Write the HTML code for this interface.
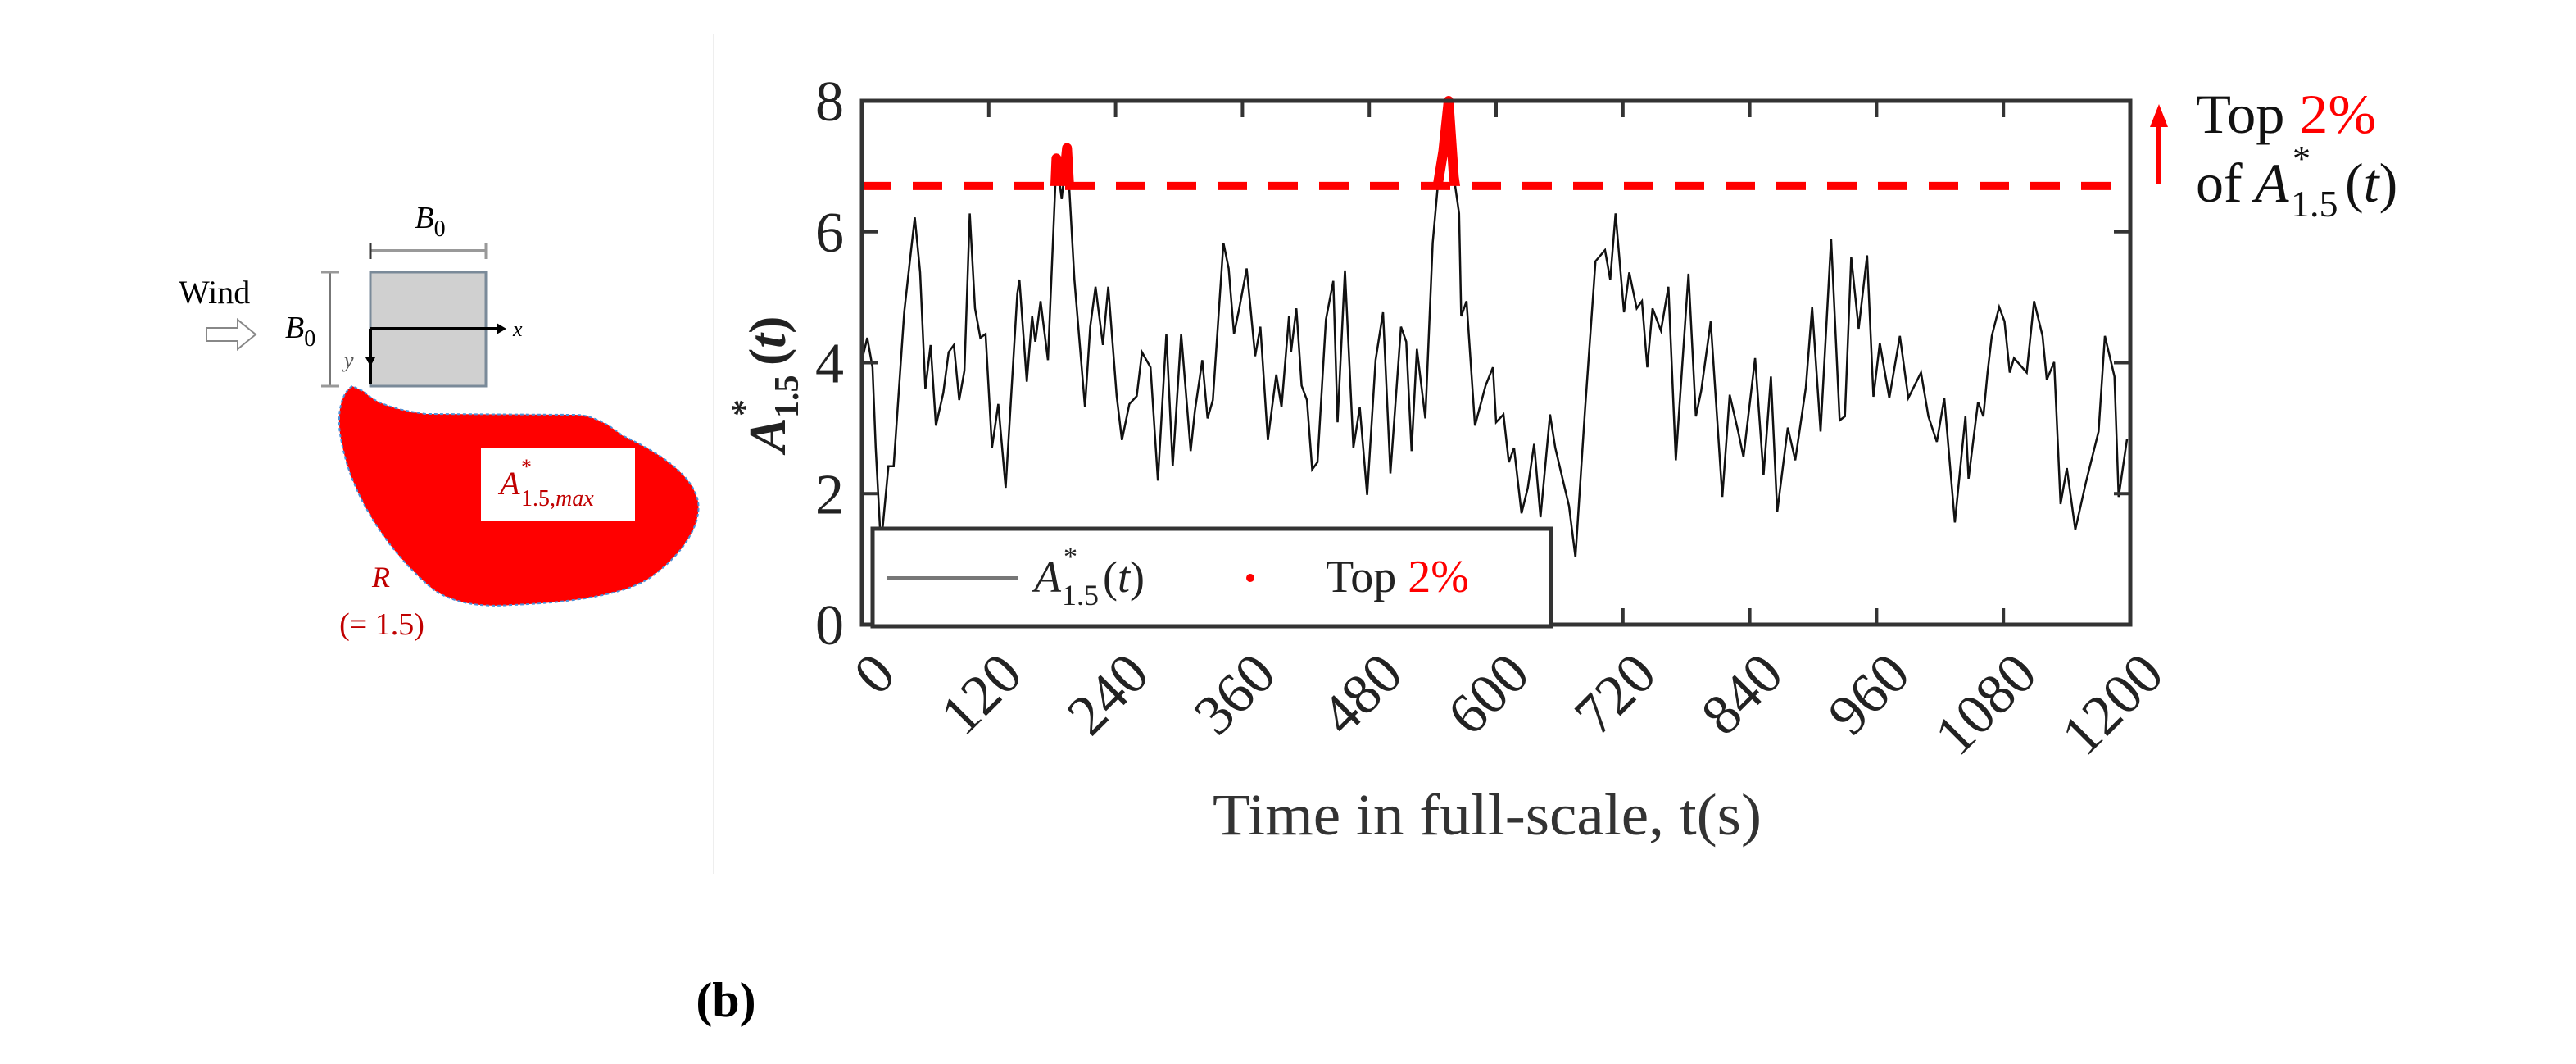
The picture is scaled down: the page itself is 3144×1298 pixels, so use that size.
<!DOCTYPE html>
<html><head><meta charset="utf-8"><style>
html,body{margin:0;padding:0;background:#fff;}
svg{display:block;font-family:"Liberation Serif",serif;}
</style></head><body>
<svg id="fig" width="3144" height="1298" viewBox="0 0 3144 1298">
<line x1="871" y1="42" x2="871" y2="1066" stroke="#eee" stroke-width="2"/>
<g>
  <rect x="452" y="332" width="141" height="139" fill="#d0d0d0" stroke="#7a8a99" stroke-width="3"/>
  <line x1="452" y1="306" x2="593" y2="306" stroke="#999" stroke-width="4"/>
  <line x1="452" y1="296" x2="452" y2="316" stroke="#333" stroke-width="3"/>
  <line x1="593" y1="296" x2="593" y2="316" stroke="#999" stroke-width="3"/>
  <text x="525" y="278" font-size="38" font-style="italic" text-anchor="middle">B<tspan font-size="28" font-style="normal" dy="10">0</tspan></text>
  <line x1="403" y1="332" x2="403" y2="471" stroke="#777" stroke-width="2"/>
  <line x1="392" y1="332" x2="414" y2="332" stroke="#999" stroke-width="3"/>
  <line x1="392" y1="471" x2="414" y2="471" stroke="#999" stroke-width="3"/>
  <text x="348" y="412" font-size="38" font-style="italic">B<tspan font-size="28" font-style="normal" dy="10">0</tspan></text>
  <text x="218" y="370" font-size="40">Wind</text>
  <path d="M252,400 L290,400 L290,390 L312,408 L290,426 L290,416 L252,416 Z" fill="#fff" stroke="#888" stroke-width="2"/>
  <line x1="452" y1="401" x2="608" y2="401" stroke="#000" stroke-width="4"/>
  <path d="M606,394 L618,401 L606,408 Z" fill="#000"/>
  <text x="626" y="410" font-size="26" font-style="italic">x</text>
  <line x1="452" y1="401" x2="452" y2="468" stroke="#000" stroke-width="4"/>
  <path d="M446,436 L452,447 L458,436 Z" fill="#000"/>
  <text x="420" y="448" font-size="26" font-style="italic" fill="#555">y</text>
  <path d="M430,471 C415,480 410,510 417,540 C430,610 480,680 530,720 C560,740 600,740 625,738 C700,735 770,725 800,700 C840,670 860,630 850,605 C840,575 800,550 759,531 C740,515 720,506 702,506 L520,505 C480,500 455,490 445,478 Z" fill="#ff0000" stroke="#4a90d9" stroke-width="2" stroke-dasharray="4 3"/>
  <rect x="587" y="546" width="188" height="90" fill="#fff"/>
  <g fill="#c00000">
    <text x="610" y="603" font-size="40" font-style="italic">A</text>
    <text x="636" y="578" font-size="26">*</text>
    <text x="636" y="617" font-size="28"><tspan>1.5,</tspan><tspan font-style="italic">max</tspan></text>
  </g>
  <text x="465" y="716" font-size="36" font-style="italic" fill="#c00000" text-anchor="middle">R</text>
  <text x="466" y="774" font-size="38" fill="#c00000" text-anchor="middle">(= 1.5)</text>
</g>
<text x="886" y="1240" font-size="60" font-weight="bold" text-anchor="middle">(b)</text>
<g id="chart"></g>
</svg>
<script>
const times = [0,5,10,13,18,25,30,40,45,50,55,60,65,70,77,82,87,92,97,102,107,112,117,123,129,136,147,149,156,161,164,169,176,184,189,194,201,211,216,221,228,233,241,246,253,260,265,273,280,288,294,302,311,315,322,327,332,342,347,352,357,364,372,377,384,392,397,404,406,411,416,421,426,431,439,446,450,457,465,471,478,486,493,500,510,515,520,525,533,540,545,550,555,560,565,567,572,580,590,597,600,607,612,617,624,630,636,642,651,656,664,669,675,684,694,703,708,713,721,726,733,738,743,748,756,763,770,782,789,794,803,814,821,829,834,845,853,860,866,876,883,893,899,907,917,925,930,936,943,951,957,963,972,982,990,1002,1009,1017,1024,1034,1044,1047,1056,1061,1065,1069,1076,1081,1086,1090,1102,1109,1117,1121,1128,1134,1140,1148,1158,1170,1176,1185,1189,1197];
const values = [4.04,4.38,3.93,2.70,1.20,2.42,2.42,4.77,5.50,6.22,5.38,3.60,4.27,3.04,3.54,4.16,4.27,3.43,3.88,6.28,4.83,4.38,4.44,2.70,3.37,2.09,5.05,5.27,3.71,4.71,4.32,4.94,4.04,7.12,6.5,7.28,5.27,3.32,4.55,5.16,4.27,5.16,3.49,2.82,3.37,3.49,4.16,3.93,2.20,4.44,2.42,4.44,2.65,3.26,4.04,3.15,3.43,5.83,5.44,4.44,4.83,5.44,4.10,4.55,2.82,3.82,3.32,4.71,4.16,4.83,3.65,3.43,2.37,2.48,4.66,5.25,3.09,5.41,2.70,3.32,1.98,4.04,4.77,2.31,4.55,4.32,2.65,4.21,3.15,5.83,6.73,7.23,8.0,6.84,6.28,4.71,4.94,3.04,3.65,3.93,3.09,3.21,2.48,2.70,1.70,2.09,2.76,1.64,3.21,2.70,2.15,1.81,1.03,3.26,5.55,5.72,5.27,6.28,4.77,5.38,4.83,4.94,3.93,4.83,4.49,5.16,2.51,5.36,3.18,3.57,4.63,1.95,3.51,2.95,2.56,4.07,2.28,3.79,1.72,3.01,2.51,3.62,4.85,2.95,5.89,3.12,3.18,5.61,4.52,5.64,3.48,4.30,3.46,4.41,3.46,3.85,3.18,2.79,3.46,1.56,3.18,2.23,3.40,3.18,3.85,4.41,4.85,4.63,3.85,4.07,3.85,4.94,4.41,3.74,4.01,1.84,2.39,1.45,2.17,2.95,4.41,3.79,1.95,2.84];
const threshold = [6.7];
const xTicks = [0,120,240,360,480,600,720,840,960,1080,1200];
const yTicks = [0,2,4,6,8];

const NS='http://www.w3.org/2000/svg';
const g=document.getElementById('chart');
const L=1052,R=2600,T=123,B=762;
const xs=t=>L+(t/1200)*(R-L);
const ys=v=>B-(v/8)*(B-T);
function el(tag,attrs,parent){const e=document.createElementNS(NS,tag);for(const k in attrs)e.setAttribute(k,attrs[k]);(parent||g).appendChild(e);return e;}

const defs=el('defs',{});
const cp=el('clipPath',{id:'above'},defs);
el('rect',{x:L,y:T-20,width:R-L,height:ys(threshold[0])-(T-20)},cp);

let d='';
times.forEach((t,i)=>{d+=(i?'L':'M')+xs(t).toFixed(1)+','+ys(values[i]).toFixed(1);});
const line=el('path',{d:d,fill:'none',stroke:'#111','stroke-width':2.5});


const top2=el('path',{d:d,fill:'none',stroke:'#ff0000','stroke-width':12,'stroke-linejoin':'round','clip-path':'url(#above)'});



const dash=el('line',{x1:L,x2:2580,y1:ys(threshold[0]),y2:ys(threshold[0]),stroke:'#ff0000','stroke-width':10,'stroke-dasharray':'36 26'});



const box=el('rect',{x:L,y:T,width:R-L,height:B-T,fill:'none',stroke:'#333','stroke-width':5});



xTicks.forEach(t=>{
  const x=xs(t);
  el('line',{x1:x,x2:x,y1:B,y2:B-20,stroke:'#333','stroke-width':4});
  el('line',{x1:x,x2:x,y1:T,y2:T+20,stroke:'#333','stroke-width':4});
  const ax=x+44, ay=826;
  const lab=el('text',{x:ax,y:ay,'font-size':70,'text-anchor':'end',fill:'#222',transform:`rotate(-45 ${ax} ${ay})`});
  lab.textContent=t;
  
  
});
yTicks.forEach(v=>{
  const y=ys(v);
  el('line',{x1:L,x2:L+20,y1:y,y2:y,stroke:'#333','stroke-width':4});
  el('line',{x1:R,x2:R-20,y1:y,y2:y,stroke:'#333','stroke-width':4});
  const lab=el('text',{x:1030,y:y+24,'font-size':70,'text-anchor':'end',fill:'#222'});
  lab.textContent=v;
  
  
});

const lg=el('g',{});


el('rect',{x:1065,y:645,width:828,height:119,fill:'#fff',stroke:'#333','stroke-width':5},lg);
el('line',{x1:1083,x2:1243,y1:705,y2:705,stroke:'#777','stroke-width':4},lg);
const lt=el('g',{fill:'#222'},lg);


el('text',{x:1262,y:722,'font-size':54,'font-style':'italic'},lt).textContent='A';
el('text',{x:1298,y:690,'font-size':34},lt).textContent='*';
el('text',{x:1296,y:738,'font-size':36},lt).textContent='1.5';
const lp=el('text',{x:1346,y:722,'font-size':54},lt);
lp.innerHTML='(<tspan font-style="italic">t</tspan>)';
el('circle',{cx:1526,cy:705,r:5,fill:'#ff0000'},lg);
const lt2=el('text',{x:1618,y:722,'font-size':56,fill:'#222'},lg);
lt2.innerHTML='Top <tspan fill="#ff0000">2%</tspan>';



const xt=el('text',{x:1815,y:1018,'font-size':72,'text-anchor':'middle',fill:'#333',textLength:670,lengthAdjust:'spacingAndGlyphs'});
xt.textContent='Time in full-scale, t(s)';



const yt=el('g',{fill:'#222','font-weight':'bold',transform:'translate(936 440) rotate(-90)'});


el('text',{x:-112,y:22,'font-size':64,'font-style':'italic'},yt).textContent='A';
el('text',{x:-68,y:-14,'font-size':42},yt).textContent='*';
el('text',{x:-70,y:38,'font-size':42},yt).textContent='1.5';
const yp=el('text',{x:-6,y:22,'font-size':64},yt);
yp.innerHTML='(<tspan font-style="italic">t</tspan>)';

const arr=el('g',{});


el('line',{x1:2635,x2:2635,y1:225,y2:150,stroke:'#ff0000','stroke-width':6},arr);
el('path',{d:'M2624,155 L2635,127 L2646,155 Z',fill:'#ff0000'},arr);
const a1=el('text',{x:2680,y:162,'font-size':68,fill:'#111',textLength:220,lengthAdjust:'spacingAndGlyphs'},arr);
a1.innerHTML='Top <tspan fill="#ff0000">2%</tspan>';
el('text',{x:2680,y:246,'font-size':68,fill:'#111'},arr).textContent='of';
el('text',{x:2752,y:246,'font-size':68,fill:'#111','font-style':'italic'},arr).textContent='A';
el('text',{x:2798,y:208,'font-size':44,fill:'#111'},arr).textContent='*';
el('text',{x:2796,y:264,'font-size':46,fill:'#111'},arr).textContent='1.5';
const ap=el('text',{x:2862,y:246,'font-size':68,fill:'#111'},arr);
ap.innerHTML='(<tspan font-style="italic">t</tspan>)';
</script>
</body></html>
